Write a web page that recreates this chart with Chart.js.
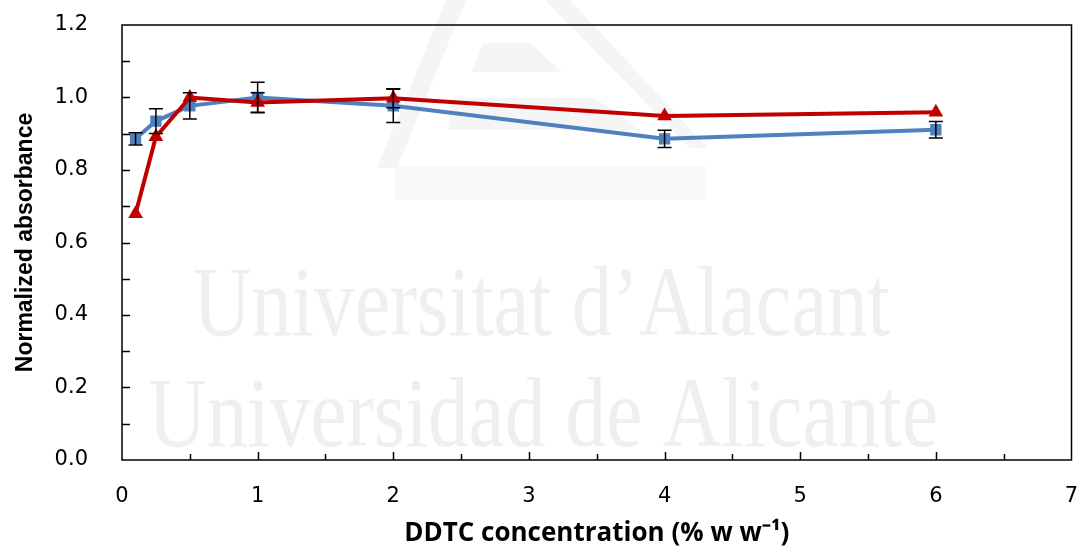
<!DOCTYPE html>
<html>
<head>
<meta charset="utf-8">
<script src="https://cdn.jsdelivr.net/npm/chart.js@4.4.0/dist/chart.umd.min.js"></script>
<style>
    html, body { margin: 0; padding: 0; background: #fff; }
    #wrap { width: 1080px; height: 547px; position: relative; }
</style>
</head>
<body>
<div id="wrap"><canvas id="absChart"></canvas></div>
<script>
// DDTC concentration (% w/w) and normalized absorbance for both series
const concentrations = [0.1, 0.25, 0.5, 1, 2, 4, 6];
const blueValues = [0.886, 0.935, 0.977, 1.0, 0.977, 0.886, 0.911];
const blueErrors = [0.017, 0.034, 0.036, 0.042, 0.046, 0.024, 0.023];
const redValues = [0.679, 0.892, 1.0, 0.986, 0.998, 0.949, 0.959];
const redErrors = [0, 0, 0, 0.027, 0.026, 0, 0];

const xTickLabels = ["0", "1", "2", "3", "4", "5", "6", "7"];
const yTickLabels = ["0.0", "0.2", "0.4", "0.6", "0.8", "1.0", "1.2"];
const watermarkLines = ["Universitat d\u2019Alacant", "Universidad de Alicante"];

const BLUE = "#4F81BD";
const RED = "#C00000";
const TICK_FONT = "Verdana, 'DejaVu Sans', sans-serif";

function toPoints(values) {
    return concentrations.map((c, i) => ({ x: c, y: values[i] }));
}

// faint repository watermark behind the data
function drawWatermark(chart) {
    const ctx = chart.ctx;
    ctx.save();
    ctx.fillStyle = "#f5f5f5";
    // logo strokes
    ctx.beginPath();
    ctx.moveTo(377, 168); ctx.lineTo(397, 168); ctx.lineTo(466, 0); ctx.lineTo(446, 0);
    ctx.closePath(); ctx.fill();
    ctx.beginPath();
    ctx.moveTo(545, 0); ctx.lineTo(570, 0); ctx.lineTo(708, 148); ctx.lineTo(690, 148);
    ctx.closePath(); ctx.fill();
    ctx.beginPath();
    ctx.moveTo(483, 43); ctx.lineTo(530, 43); ctx.lineTo(562, 72); ctx.lineTo(472, 72);
    ctx.closePath(); ctx.fill();
    ctx.beginPath();
    ctx.moveTo(452, 98); ctx.lineTo(595, 98); ctx.lineTo(640, 130); ctx.lineTo(448, 130);
    ctx.closePath(); ctx.fill();
    ctx.fillStyle = "#f8f8f8";
    ctx.fillRect(395, 166, 310, 34);

    ctx.fillStyle = "#efefef";
    ctx.font = "100px 'Liberation Serif', serif";
    ctx.textBaseline = "alphabetic";
    const spots = [
        { x0: 193, x1: 890, base: 335 },
        { x0: 148, x1: 938, base: 446 }
    ];
    watermarkLines.forEach((txt, i) => {
        const s = spots[i];
        const w = ctx.measureText(txt).width;
        ctx.save();
        ctx.translate(s.x0, s.base);
        ctx.scale((s.x1 - s.x0) / w, 1);
        ctx.fillText(txt, 0, 0);
        ctx.restore();
    });
    ctx.restore();
}

const plotDecor = {
    id: "plotDecor",
    beforeDatasetsDraw(chart) {
        drawWatermark(chart);
    },
    afterDatasetsDraw(chart) {
        // error bars, computed through the chart scales
        const ctx = chart.ctx;
        const xs = chart.scales.x, ys = chart.scales.y;
        ctx.save();
        ctx.strokeStyle = "#000";
        ctx.lineWidth = 1.5;
        const bars = [[blueValues, blueErrors], [redValues, redErrors]];
        bars.forEach(([vals, errs]) => {
            concentrations.forEach((c, i) => {
                if (!errs[i]) return;
                const px = xs.getPixelForValue(c);
                const top = ys.getPixelForValue(vals[i] + errs[i]);
                const bot = ys.getPixelForValue(vals[i] - errs[i]);
                ctx.beginPath();
                ctx.moveTo(px, top); ctx.lineTo(px, bot);
                ctx.moveTo(px - 7, top); ctx.lineTo(px + 7, top);
                ctx.moveTo(px - 7, bot); ctx.lineTo(px + 7, bot);
                ctx.stroke();
            });
        });
        ctx.restore();
    },
    afterDraw(chart) {
        const ctx = chart.ctx;
        const a = chart.chartArea;
        const xs = chart.scales.x, ys = chart.scales.y;
        ctx.save();
        ctx.strokeStyle = "#000";
        ctx.lineWidth = 1.5;
        ctx.strokeRect(a.left, a.top, a.right - a.left, a.bottom - a.top);
        // inward tick marks
        ctx.beginPath();
        for (let v = 0.5; v < 7; v += 0.5) {
            const px = Math.round(xs.getPixelForValue(v)) + 0.5;
            const len = Number.isInteger(v) ? 8 : 6;
            ctx.moveTo(px, a.bottom); ctx.lineTo(px, a.bottom - len);
        }
        for (let k = 1; k < 12; k++) {
            const py = Math.round(ys.getPixelForValue(k / 10)) + 0.5;
            ctx.moveTo(a.left, py); ctx.lineTo(a.left + 8, py);
        }
        ctx.stroke();
        ctx.restore();
    }
};

function noScalePadding(s) {
    s.paddingTop = 0;
    s.paddingBottom = 0;
    s.paddingLeft = 0;
    s.paddingRight = 0;
}

new Chart(document.getElementById("absChart"), {
    type: "line",
    data: {
        datasets: [
            {
                label: "red",
                data: toPoints(redValues),
                borderColor: RED,
                backgroundColor: RED,
                borderWidth: 4,
                pointStyle: "triangle",
                pointRadius: 8.5,
                pointBorderWidth: 0,
                tension: 0
            },
            {
                label: "blue",
                data: toPoints(blueValues),
                borderColor: BLUE,
                backgroundColor: BLUE,
                borderWidth: 4,
                pointStyle: "rect",
                pointRadius: 8,
                pointBorderWidth: 0,
                tension: 0
            }
        ]
    },
    options: {
        responsive: true,
        maintainAspectRatio: false,
        animation: false,
        layout: { padding: { top: 25, right: 7, left: 0, bottom: 0 } },
        plugins: {
            legend: { display: false },
            tooltip: { enabled: false }
        },
        scales: {
            x: {
                type: "linear",
                min: 0,
                max: 7,
                afterFit: s => { s.height = 87; noScalePadding(s); },
                afterBuildTicks: s => { s.ticks = xTickLabels.map(t => ({ value: parseFloat(t) })); },
                grid: { display: false, drawTicks: false },
                border: { display: false },
                ticks: {
                    padding: 24,
                    color: "#000",
                    font: { family: TICK_FONT, size: 21 },
                    callback: (v, i) => xTickLabels[i]
                },
                title: {
                    display: true,
                    text: "DDTC concentration (% w w\u207B\u00B9)",
                    color: "#000",
                    padding: 0,
                    font: { family: "'Open Sans', 'Liberation Sans', sans-serif", size: 26, weight: "bold", lineHeight: 1 }
                }
            },
            y: {
                min: 0,
                max: 1.2,
                afterFit: s => { s.width = 122; noScalePadding(s); },
                afterBuildTicks: s => { s.ticks = yTickLabels.map(t => ({ value: parseFloat(t) })); },
                grid: { display: false, drawTicks: false },
                border: { display: false },
                ticks: {
                    padding: 34,
                    color: "#000",
                    font: { family: TICK_FONT, size: 21 },
                    callback: (v, i) => yTickLabels[i]
                },
                title: {
                    display: true,
                    text: "Normalized absorbance",
                    color: "#000",
                    padding: { top: 14, bottom: 0 },
                    font: { family: "'Liberation Sans', sans-serif", size: 23, weight: "bold", lineHeight: 1 }
                }
            }
        }
    },
    plugins: [plotDecor]
});
</script>
</body>
</html>
